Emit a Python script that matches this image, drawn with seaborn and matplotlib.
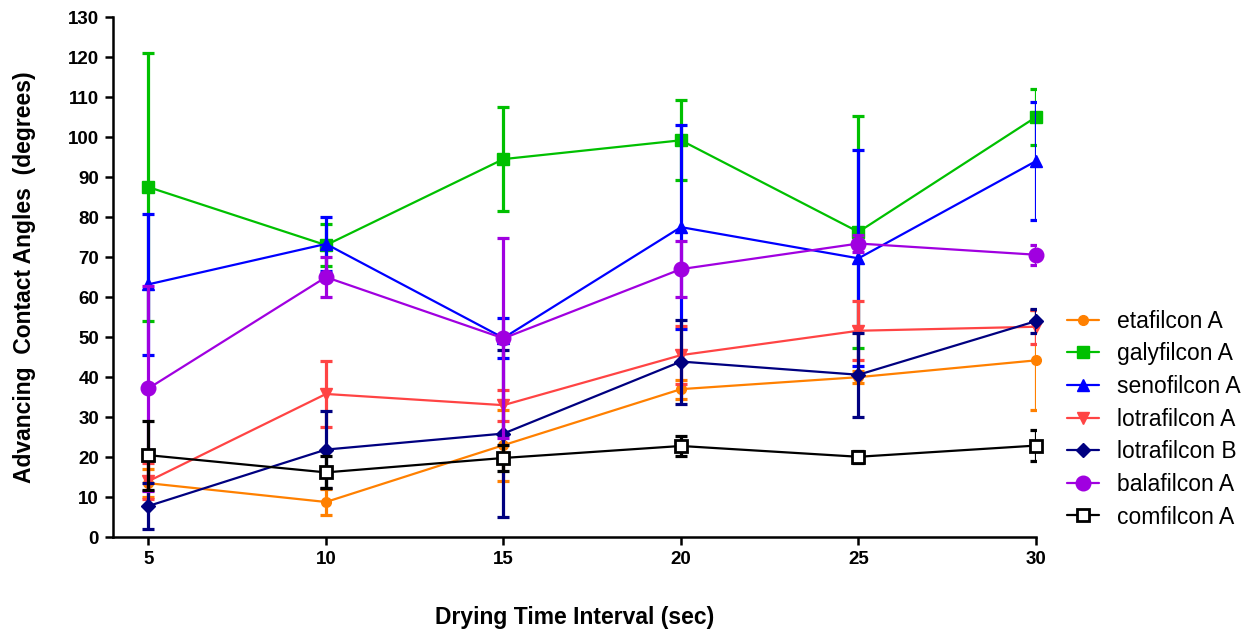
import matplotlib
matplotlib.use("Agg")
import matplotlib.pyplot as plt
import seaborn as sns
import pandas as pd

times = [5, 10, 15, 20, 25, 30]
lenses = ["etafilcon A", "galyfilcon A", "senofilcon A", "lotrafilcon A",
          "lotrafilcon B", "balafilcon A", "comfilcon A"]

etafilcon_A = [13.5, 8.8, 23.0, 37.0, 40.0, 44.2]
etafilcon_A_err = [3.5, 3.3, 8.9, 2.4, 1.5, 12.5]
galyfilcon_A = [87.5, 73.0, 94.5, 99.2, 76.3, 105.0]
galyfilcon_A_err = [33.5, 5.3, 12.9, 10.0, 29.0, 7.0]
senofilcon_A = [63.2, 73.3, 49.8, 77.5, 69.7, 94.0]
senofilcon_A_err = [17.7, 6.8, 5.0, 25.5, 27.0, 14.8]
lotrafilcon_A = [14.0, 35.8, 33.0, 45.5, 51.6, 52.6]
lotrafilcon_A_err = [4.5, 8.3, 3.9, 7.3, 7.4, 4.3]
lotrafilcon_B = [7.8, 21.9, 25.9, 43.9, 40.6, 54.0]
lotrafilcon_B_err = [5.8, 9.7, 20.8, 10.5, 10.5, 3.0]
balafilcon_A = [37.2, 65.0, 49.7, 67.0, 73.4, 70.6]
balafilcon_A_err = [25.6, 5.0, 25.0, 7.0, 2.2, 2.5]
comfilcon_A = [20.5, 16.2, 19.8, 22.8, 20.1, 22.9]
comfilcon_A_err = [8.6, 4.0, 3.2, 2.4, 1.5, 3.8]

means = [etafilcon_A, galyfilcon_A, senofilcon_A, lotrafilcon_A,
         lotrafilcon_B, balafilcon_A, comfilcon_A]
errs = [etafilcon_A_err, galyfilcon_A_err, senofilcon_A_err, lotrafilcon_A_err,
        lotrafilcon_B_err, balafilcon_A_err, comfilcon_A_err]

colors = ["#FF8000", "#00C000", "#0000FF", "#FF4444", "#000080", "#A000E0", "#000000"]
markers = ["o", "s", "^", "v", "D", "o", "s"]
msizes = [7, 8.5, 8, 8, 7, 10.5, 8.5]

sns.set_style("ticks")
plt.rcParams["font.family"] = ["Liberation Sans", "DejaVu Sans"]
plt.rcParams["text.color"] = "black"
plt.rcParams["axes.labelcolor"] = "black"
plt.rcParams["xtick.color"] = "black"
plt.rcParams["ytick.color"] = "black"

fig = plt.figure(figsize=(12.51, 6.32), dpi=100)
ax = fig.add_axes([0.0903, 0.150, 0.7378, 0.823])

rows = []
for name, m in zip(lenses, means):
    for t, v in zip(times, m):
        rows.append({"time": t, "angle": v, "lens": name})
df = pd.DataFrame(rows)

for i, name in enumerate(lenses):
    sub = df[df["lens"] == name]
    ax.errorbar(sub["time"], sub["angle"], yerr=errs[i], fmt="none",
                ecolor=colors[i], elinewidth=2.3, capsize=4.3, capthick=2.3,
                zorder=2 + i * 0.1)
    mfc = "white" if name == "comfilcon A" else colors[i]
    sns.lineplot(data=sub, x="time", y="angle", ax=ax, color=colors[i],
                 marker=markers[i], markersize=msizes[i],
                 markerfacecolor=mfc, markeredgecolor=colors[i],
                 markeredgewidth=2.0 if name == "comfilcon A" else 1.0,
                 linewidth=1.6, label=name, clip_on=False,
                 zorder=2.05 + i * 0.1)

ax.set_xlim(4, 30)
ax.set_ylim(0, 130)
ax.set_xticks(times)
ax.set_yticks(range(0, 131, 10))
for s in ["top", "right"]:
    ax.spines[s].set_visible(False)
for s in ["left", "bottom"]:
    ax.spines[s].set_linewidth(1.8)
    ax.spines[s].set_color("black")
ax.tick_params(axis="both", direction="out", length=6, width=1.8,
               labelsize=13.5, pad=4, colors="black")
for lab in ax.get_xticklabels() + ax.get_yticklabels():
    lab.set_fontweight("bold")

ax.set_xlabel("Drying Time Interval (sec)", fontsize=16.5, fontweight="bold",
              labelpad=27)
ax.set_ylabel("Advancing  Contact Angles  (degrees)", fontsize=16.5,
              fontweight="bold", labelpad=23)

leg = ax.legend(loc="center left", bbox_to_anchor=(1.034, 0.227), frameon=False,
                fontsize=16.5, handlelength=1.4, handletextpad=0.75,
                labelspacing=0.42, borderaxespad=0, borderpad=0)
for t in leg.get_texts():
    t.set_color("black")

fig.savefig("out.png", dpi=100)
